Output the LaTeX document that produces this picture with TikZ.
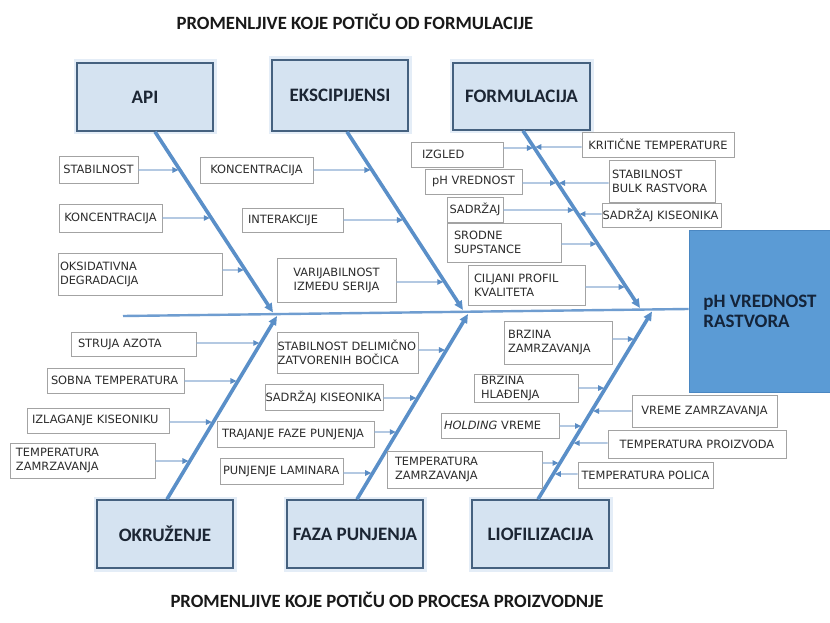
\documentclass[tikz,border=0pt]{standalone}
\usepackage{fontspec}
\setmainfont{Carlito}
\newfontfamily\lblfamily{DejaVu Sans}
\usetikzlibrary{arrows.meta}
\definecolor{boxfill}{HTML}{D5E3F1}
\definecolor{boxedge}{HTML}{45617F}
\definecolor{glow}{HTML}{E4EDF7}
\definecolor{phfill}{HTML}{5B9BD5}
\definecolor{phedge}{HTML}{4A87C2}
\definecolor{bonecol}{HTML}{5A8FC8}
\definecolor{spinecol}{HTML}{6F9DD0}
\definecolor{sarrcol}{HTML}{8CADD3}
\definecolor{tipcol}{HTML}{5A8CC4}
\definecolor{lbledge}{HTML}{A3A3A3}
\definecolor{lbltext}{HTML}{2C2C2C}
\definecolor{headtext}{HTML}{1C2634}
\definecolor{phtext}{HTML}{14243A}
\newcommand\armR[3]{\draw[sarr] (#1.east |- 0,#2) -- (intersection of #3T--#3B and 0,#2--10,#2);}
\newcommand\armL[3]{\draw[sarr] (#1.west |- 0,#2) -- (intersection of #3T--#3B and 0,#2--10,#2);}
\begin{document}
\begin{tikzpicture}[x=1pt,y=-1pt,
 bigbox/.style={draw=boxedge, fill=boxfill, line width=1.6pt, preaction={draw=glow,line width=7pt}, minimum width=136pt, minimum height=68pt, inner sep=0pt, font=\fontsize{19}{21}\selectfont\bfseries, text=headtext},
 lbl/.style={draw=lbledge, fill=white, line width=0.9pt, font=\fontsize{11.4}{14}\lblfamily, text=lbltext, inner ysep=0pt},
 bone/.style={draw=bonecol, line width=3.6pt, -{Triangle[length=9pt,width=8pt]}},
 sarr/.style={draw=sarrcol, line width=1.3pt, -{Triangle[length=6pt,width=5.5pt,color=tipcol]}, shorten >=1.5pt},
 title/.style={font=\fontsize{18.7}{21}\selectfont\bfseries, text=black!90}
]
\useasboundingbox (0,0) rectangle (830,623);
\fill[white] (0,0) rectangle (830,623);

% titles
\node[title] (ttop) at (355,22) {PROMENLJIVE KOJE POTIČU OD FORMULACIJE};
\node[title] (tbot) at (387,600) {PROMENLJIVE KOJE POTIČU OD PROCESA PROIZVODNJE};

% category boxes
\node[bigbox] (api) at (145,97) {API};
\node[bigbox, minimum height=71pt] (eks) at (340,95.5) {EKSCIPIJENSI};
\node[bigbox, minimum width=137pt, minimum height=67pt] (frm) at (521.5,96.5) {FORMULACIJA};
\node[bigbox] (okr) at (165,534) {OKRUŽENJE};
\node[bigbox] (faz) at (355,534) {FAZA PUNJENJA};
\node[bigbox, minimum width=137pt] (lio) at (540.5,534) {LIOFILIZACIJA};

% effect box
\node[draw=phedge, fill=phfill, line width=0.8pt, minimum width=142pt, minimum height=162pt, inner sep=0pt, align=left, font=\fontsize{19}{20}\selectfont\bfseries, text=phtext] (ph) at (760,311) {pH VREDNOST\\RASTVORA};

% spine
\coordinate (spL) at (123,316);
\coordinate (spR) at (ph.west |- 0,309);
\draw[draw=spinecol, line width=2.4pt] (spL) -- (spR);

% bones
\coordinate (apiT) at ([xshift=10pt]api.south); \coordinate (apiB) at (273,312.5);
\coordinate (eksT) at ([xshift=7pt]eks.south);  \coordinate (eksB) at (463,310);
\coordinate (frmT) at ([xshift=1.5pt]frm.south); \coordinate (frmB) at (640,308);
\coordinate (okrT) at ([xshift=2pt]okr.north);  \coordinate (okrB) at (277,316);
\coordinate (fazT) at ([xshift=2pt]faz.north);  \coordinate (fazB) at (468,314);
\coordinate (lioT) at ([xshift=-2.5pt]lio.north); \coordinate (lioB) at (652,311.5);
\foreach \b in {api,eks,frm,okr,faz,lio} {\draw[bone] (\b T) -- (\b B);}

% API causes
\node[lbl, minimum width=79pt, minimum height=27pt] (aS) at (98.5,169.5) {STABILNOST};
\node[lbl, minimum width=103pt, minimum height=28pt] (aK) at (110.5,218) {KONCENTRACIJA};
\node[lbl, text width=160pt, inner xsep=2pt, align=left, minimum height=42pt] (aO) at (140,274) {OKSIDATIVNA\\DEGRADACIJA};
% EKSCIPIJENSI causes
\node[lbl, minimum width=113pt, minimum height=26pt] (eK) at (256.5,170) {KONCENTRACIJA};
\node[lbl, text width=89pt, inner xsep=6pt, align=left, minimum height=24pt] (eI) at (292.5,220) {INTERAKCIJE};
\node[lbl, minimum width=119pt, minimum height=44pt, align=center] (eV) at (336.5,280) {VARIJABILNOST\\IZMEĐU SERIJA};
% FORMULACIJA causes
\node[lbl, text width=70pt, inner xsep=11pt, align=left, minimum height=25pt] (fI) at (457,154.5) {IZGLED};
\node[lbl, minimum width=97pt, minimum height=25pt] (fP) at (473.5,181.5) {pH VREDNOST};
\node[lbl, minimum width=56pt, minimum height=25pt, inner xsep=1pt] (fS) at (475,209.5) {SADRŽAJ};
\node[lbl, text width=100pt, inner xsep=7pt, align=left, minimum height=39pt] (fR) at (504,242.5) {SRODNE\\SUPSTANCE};
\node[lbl, text width=105pt, inner xsep=6pt, align=left, minimum height=40pt] (fC) at (526.5,285) {CILJANI PROFIL\\KVALITETA};
\node[lbl, minimum width=152pt, minimum height=25pt] (fK) at (658,144.5) {KRITIČNE TEMPERATURE};
\node[lbl, text width=100pt, inner xsep=3pt, align=left, minimum height=42pt] (fB) at (662,181) {STABILNOST\\BULK RASTVORA};
\node[lbl, text width=118pt, inner xsep=0.5pt, align=left, minimum height=24pt] (fO) at (661.5,215) {SADRŽAJ KISEONIKA};
% OKRUZENJE causes
\node[lbl, text width=111pt, inner xsep=7pt, align=left, minimum height=24pt] (oS) at (133.5,344) {STRUJA AZOTA};
\node[lbl, text width=129pt, inner xsep=4pt, align=left, minimum height=25pt] (oT) at (115.5,380.5) {SOBNA TEMPERATURA};
\node[lbl, text width=132pt, inner xsep=5pt, align=left, minimum height=25pt] (oI) at (98,420.5) {IZLAGANJE KISEONIKU};
\node[lbl, text width=133pt, inner xsep=6pt, align=left, minimum height=35pt] (oZ) at (82.5,460.5) {TEMPERATURA\\ZAMRZAVANJA};
% FAZA PUNJENJA causes
\node[lbl, text width=140pt, inner xsep=0.5pt, align=left, minimum height=41pt] (pS) at (347.5,352.5) {STABILNOST DELIMIČNO\\ZATVORENIH BOČICA};
\node[lbl, text width=117pt, inner xsep=0.5pt, align=left, minimum height=26pt] (pK) at (324,397) {SADRŽAJ KISEONIKA};
\node[lbl, text width=147pt, inner xsep=5pt, align=left, minimum height=26pt] (pT) at (295.5,434) {TRAJANJE FAZE PUNJENJA};
\node[lbl, text width=117pt, inner xsep=3pt, align=left, minimum height=26pt] (pL) at (281.5,471) {PUNJENJE LAMINARA};
% LIOFILIZACIJA causes
\node[lbl, text width=100pt, inner xsep=4pt, align=left, minimum height=43pt] (lB) at (558,342.5) {BRZINA\\ZAMRZAVANJA};
\node[lbl, text width=90pt, inner xsep=7pt, align=left, minimum height=28pt] (lH) at (526,388) {BRZINA\\HLAĐENJA};
\node[lbl, text width=112pt, inner xsep=3pt, align=left, minimum height=25pt] (lV) at (500,425.5) {\textit{HOLDING} VREME};
\node[lbl, text width=139pt, inner xsep=8pt, align=left, minimum height=37pt] (lZ) at (464.5,469.5) {TEMPERATURA\\ZAMRZAVANJA};
\node[lbl, minimum width=145pt, minimum height=32pt] (lR) at (704.5,411) {VREME ZAMRZAVANJA};
\node[lbl, minimum width=178pt, minimum height=28pt] (lP) at (697,444) {TEMPERATURA PROIZVODA};
\node[lbl, minimum width=135pt, minimum height=26pt] (lO) at (645.5,475) {TEMPERATURA POLICA};

% cause arrows
\armR{aS}{170}{api} \armR{aK}{218}{api} \armR{aO}{270}{api}
\armR{eK}{170}{eks} \armR{eI}{220}{eks} \armR{eV}{282}{eks}
\armR{fI}{148}{frm} \armR{fP}{183}{frm} \armR{fS}{210}{frm} \armR{fR}{244}{frm} \armR{fC}{287}{frm}
\armL{fK}{147}{frm} \armL{fB}{183}{frm} \armL{fO}{214}{frm}
\armR{oS}{343}{okr} \armR{oT}{381}{okr} \armR{oI}{422}{okr} \armR{oZ}{461}{okr}
\armR{pS}{350}{faz} \armR{pK}{398}{faz} \armR{pT}{432}{faz} \armR{pL}{473}{faz}
\armR{lB}{339}{lio} \armR{lH}{388}{lio} \armR{lV}{426}{lio} \armR{lZ}{463}{lio}
\armL{lR}{411}{lio} \armL{lP}{443}{lio} \armL{lO}{474}{lio}
\end{tikzpicture}
\end{document}
